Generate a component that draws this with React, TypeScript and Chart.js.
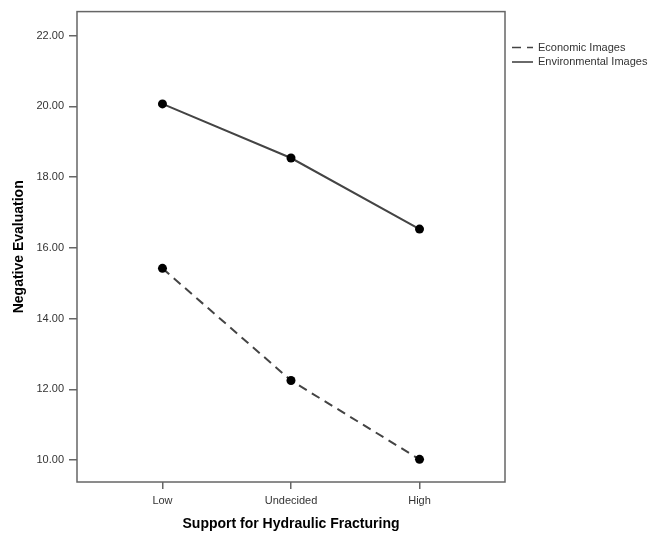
import React, { useEffect, useRef } from "react";
import { Chart, registerables } from "chart.js";

Chart.register(...registerables);

const categories = ["Low", "Undecided", "High"];
const economicValues = [15.42, 12.25, 10.02];
const environmentalValues = [20.07, 18.54, 16.53];
const yTickValues = [10, 12, 14, 16, 18, 20, 22];
const seriesNames = ["Economic Images", "Environmental Images"];

const FONT = "'Liberation Sans', Arial, sans-serif";

const frameAndLegend = {
  id: "frameAndLegend",
  afterDraw(chart: any) {
    const { ctx, chartArea } = chart;
    ctx.save();
    ctx.strokeStyle = "#666666";
    ctx.lineWidth = 1.5;
    ctx.setLineDash([]);
    ctx.strokeRect(chartArea.left, chartArea.top, chartArea.right - chartArea.left, chartArea.bottom - chartArea.top);

    // legend
    const lx = chartArea.right + 7;
    const rows = [47.5, 62];
    ctx.strokeStyle = "#444444";
    ctx.lineWidth = 1.6;
    chart.data.datasets.forEach((ds: any, i: number) => {
      const y = rows[i];
      ctx.beginPath();
      ctx.setLineDash(ds.borderDash && ds.borderDash.length ? [9, 6] : []);
      ctx.moveTo(lx, y);
      ctx.lineTo(lx + 21, y);
      ctx.stroke();
      ctx.setLineDash([]);
      ctx.fillStyle = "#333333";
      ctx.font = `11px ${FONT}`;
      ctx.textBaseline = "middle";
      ctx.textAlign = "left";
      ctx.fillText(ds.label, lx + 26, y);
    });
    ctx.restore();
  },
};

export default function App() {
  const ref = useRef<HTMLCanvasElement>(null);

  useEffect(() => {
    if (!ref.current) return;
    const mk = (vals: number[]) => vals.map((v, i) => ({ x: i, y: v }));
    const chart = new Chart(ref.current, {
      type: "line",
      data: {
        datasets: [
          {
            label: seriesNames[0],
            data: mk(economicValues),
            borderColor: "#444444",
            borderWidth: 2,
            borderDash: [9, 6],
            pointRadius: 4.5,
            pointBackgroundColor: "#000000",
            pointBorderColor: "#000000",
            pointBorderWidth: 0,
            tension: 0,
          },
          {
            label: seriesNames[1],
            data: mk(environmentalValues),
            borderColor: "#444444",
            borderWidth: 2,
            borderDash: [],
            pointRadius: 4.5,
            pointBackgroundColor: "#000000",
            pointBorderColor: "#000000",
            pointBorderWidth: 0,
            tension: 0,
          },
        ],
      },
      options: {
        animation: false,
        responsive: false,
        layout: { padding: { left: 0, right: 145, top: 10, bottom: 0 } },
        plugins: { legend: { display: false }, tooltip: { enabled: false } },
        scales: {
          x: {
            type: "linear",
            min: -0.665,
            max: 2.665,
            afterBuildTicks: (scale: any) => {
              scale.ticks = categories.map((_, i) => ({ value: i }));
            },
            afterFit: (scale: any) => {
              scale.height = 53;
            },
            ticks: {
              callback: (v: any) => categories[v as number] ?? "",
              color: "#333333",
              font: { family: FONT, size: 11 },
              padding: 5,
              maxRotation: 0,
            },
            grid: { drawOnChartArea: false, drawTicks: true, tickLength: 7, color: "#666666", lineWidth: 1.5 },
            border: { display: false },
            title: {
              display: true,
              text: "Support for Hydraulic Fracturing",
              color: "#000000",
              font: { family: FONT, size: 14, weight: "bold" },
              padding: { top: 0, bottom: 2 },
            },
          },
          y: {
            type: "linear",
            min: 9.38,
            max: 22.68,
            afterBuildTicks: (scale: any) => {
              scale.ticks = yTickValues.map((v) => ({ value: v }));
            },
            afterFit: (scale: any) => {
              scale.width = 77;
            },
            ticks: {
              callback: (v: any) => Number(v).toFixed(2),
              color: "#333333",
              font: { family: FONT, size: 11 },
              padding: 5,
            },
            grid: { drawOnChartArea: false, drawTicks: true, tickLength: 8, color: "#666666", lineWidth: 1.5 },
            border: { display: false },
            title: {
              display: true,
              text: "Negative Evaluation",
              color: "#000000",
              font: { family: FONT, size: 14, weight: "bold" },
              padding: { top: 11, bottom: 0 },
            },
          },
        },
      },
      plugins: [frameAndLegend],
    });
    return () => chart.destroy();
  }, []);

  return (
    <div style={{ position: "absolute", left: 0, top: 0, width: 650, height: 535, background: "#ffffff" }}>
      <canvas ref={ref} width={650} height={535} />
    </div>
  );
}
